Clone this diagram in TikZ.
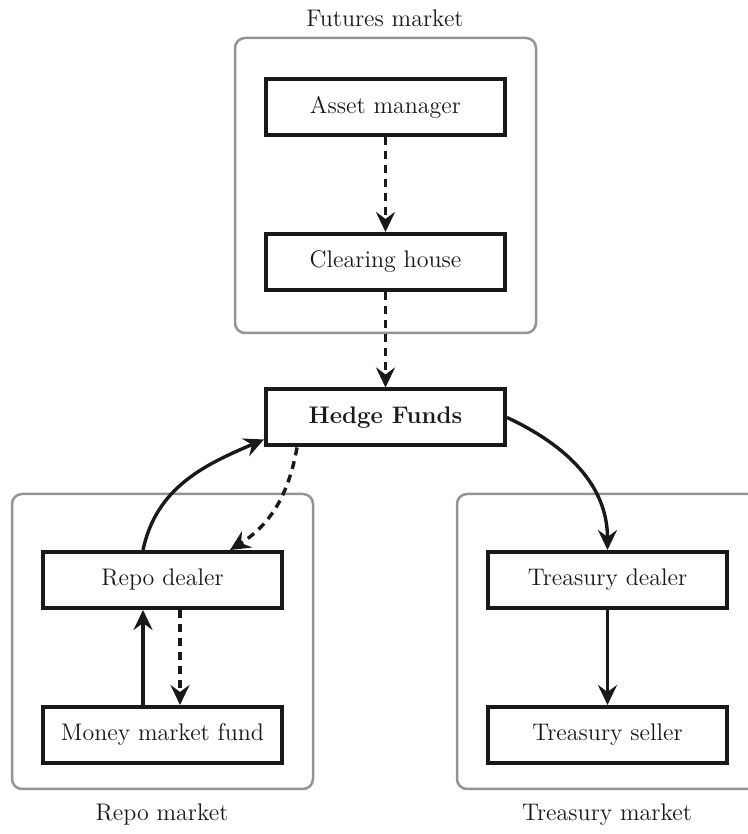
\documentclass[tikz,border=0pt]{standalone}
\usetikzlibrary{arrows.meta}

\tikzset{
    actor/.style={draw=black!90, line width=2pt, minimum width=119.5pt, minimum height=28pt, inner sep=0pt, text=black!90, font=\fontsize{12}{14}\selectfont},
    market/.style={draw=black!42, line width=1.25pt, rounded corners=5pt},
    marketlabel/.style={text=black!90, font=\fontsize{12}{14}\selectfont},
    flow/.style={line width=1.7pt, draw=black!90, -{Stealth[length=10pt,width=9.5pt,inset=3.5pt]}},
    promise/.style={flow, dash pattern=on 4pt off 3pt},
}

\begin{document}
\begin{tikzpicture}[x=0.5pt, y=0.5pt]
    \useasboundingbox (0,0) rectangle (748,834);

    % Market frames
    \draw[market] (235,796) rectangle (536,501);
    \draw[market] (12,340) rectangle (313,45);
    \draw[market] (457,340) rectangle (758,45);

    % Market names
    \node[marketlabel] (futlbl) at (385,816) {Futures market};
    \node[marketlabel] (repolbl) at (162,19) {Repo market};
    \node[marketlabel] (treaslbl) at (607,19) {Treasury market};

    % Actors
    \node[actor] (am) at (385.5,727) {Asset manager};
    \node[actor] (ch) at (385.5,572) {Clearing house};
    \node[actor] (hf) at (385.5,416.5) {\textbf{Hedge Funds}};
    \node[actor] (rd) at (162.5,254) {Repo dealer};
    \node[actor] (mmf) at (162.5,99) {Money market fund};
    \node[actor] (td) at (607.5,254) {Treasury dealer};
    \node[actor] (ts) at (607.5,99) {Treasury seller};

    % Futures leg
    \draw[promise] (am) -- (ch);
    \draw[promise] (ch) -- (hf);

    % Repo leg
    \draw[flow] ([xshift=-9.75pt]rd.north) to[out=78,in=203] ([yshift=4pt]hf.south west);
    \draw[promise] ([xshift=-44.25pt]hf.south) to[out=260,in=32] ([xshift=33.75pt]rd.north);
    \draw[flow] ([xshift=-9.75pt]mmf.north) -- ([xshift=-9.75pt]rd.south);
    \draw[promise] ([xshift=8.75pt]rd.south) -- ([xshift=8.75pt]mmf.north);

    % Treasury leg
    \draw[flow] (hf.east) to[out=-25,in=90] (td.north);
    \draw[flow] (td) -- (ts);
\end{tikzpicture}
\end{document}
